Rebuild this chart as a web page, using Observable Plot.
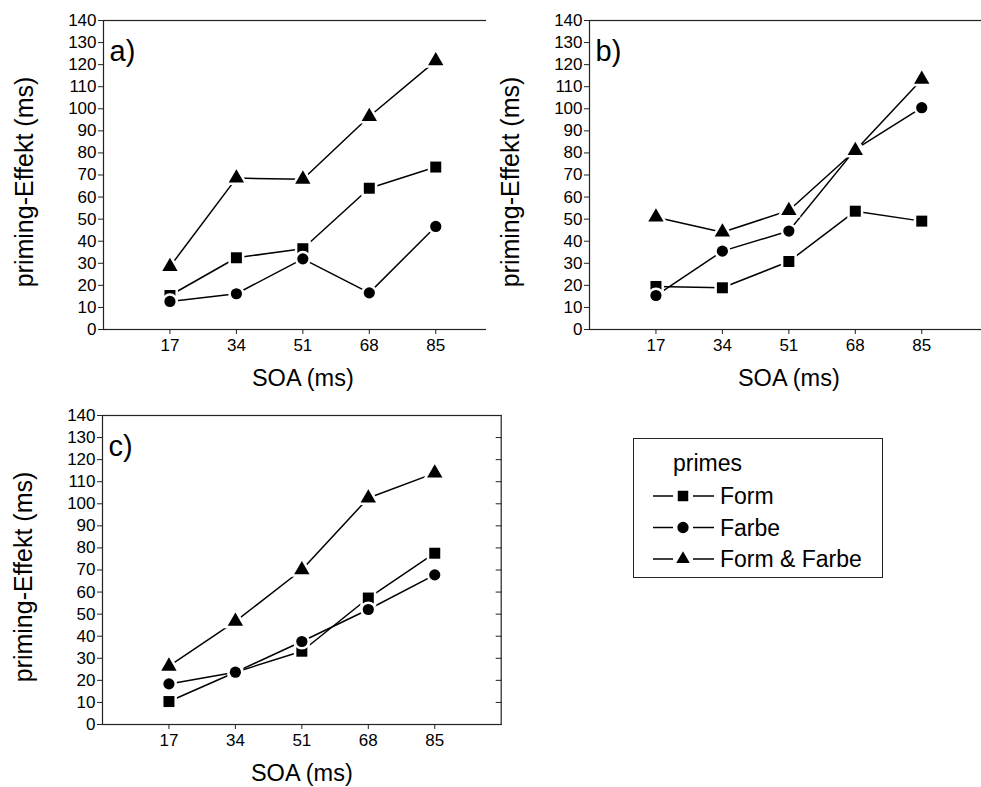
<!DOCTYPE html>
<html>
<head>
<meta charset="utf-8">
<script src="https://cdn.jsdelivr.net/npm/d3@7"></script>
<script src="https://cdn.jsdelivr.net/npm/@observablehq/plot@0.6"></script>
<style>
  html, body { margin: 0; padding: 0; background: #fff; overflow: hidden; }
  body { width: 981px; height: 787px; position: relative; font-family: "Liberation Sans", Arial, sans-serif; }
  .panel { position: absolute; width: 520px; height: 400px; }
  .panel svg { max-width: none !important; }
  #legend { position: absolute; left: 633px; top: 438px; width: 248px; height: 138px; border: 1px solid #222; box-sizing: content-box; }
</style>
</head>
<body>
<div id="pa" class="panel" style="left:0px;top:0px"></div>
<div id="pb" class="panel" style="left:486px;top:0px"></div>
<div id="pc" class="panel" style="left:-1px;top:395px"></div>
<div id="legend"></div>
<script>
// ---- data ----
const soa = [17, 34, 51, 68, 85];
const series = ["Form", "Farbe", "Form & Farbe"];
const symbols = ["square", "circle", "triangle"];
const yTicks = [0, 10, 20, 30, 40, 50, 60, 70, 80, 90, 100, 110, 120, 130, 140];

const aForm  = [15.4, 32.5, 36.6, 64.0, 73.6];
const aFarbe = [12.7, 16.2, 32.0, 16.6, 46.7];
const aBoth  = [28.5, 68.6, 68.1, 96.5, 121.7];

const bForm  = [19.5, 18.9, 30.8, 53.6, 49.1];
const bFarbe = [15.4, 35.5, 44.6, 81.6, 100.5];
const bBoth  = [50.9, 44.1, 53.9, 81.1, 113.3];

const cForm  = [10.4, 23.7, 33.2, 57.3, 77.6];
const cFarbe = [18.4, 23.7, 37.6, 52.1, 67.8];
const cBoth  = [26.4, 46.7, 70.1, 102.6, 113.9];

const panelLabels = ["a)", "b)", "c)"];
const xTitle = "SOA (ms)";
const yTitle = "priming-Effekt (ms)";
const legendTitle = "primes";

const font = "'Liberation Sans', Arial, sans-serif";
const symbolR = {square: 6.2, circle: 5.6, triangle: 5.7};

function rowsOf(arrs) {
  const rows = [];
  arrs.forEach((vals, si) => {
    vals.forEach((v, i) => rows.push({s: series[si], sym: symbols[si], x: soa[i], y: v}));
  });
  return rows;
}

function panel(arrs, label) {
  const rows = rowsOf(arrs);
  const marks = [
    Plot.frame({stroke: "#222", strokeWidth: 1.2}),
    Plot.axisY({ticks: yTicks, tickSize: 5, tickPadding: 2, fontSize: 17, label: null, stroke: "#222"}),
    Plot.axisY({anchor: "right", ticks: yTicks, tickSize: 6, dx: -6, tickFormat: () => "", label: null, stroke: "#222"}),
    Plot.axisX({ticks: soa, tickSize: 5, tickPadding: 4, fontSize: 17, label: null, stroke: "#222"}),
    Plot.line(rows, {x: "x", y: "y", z: "s", stroke: "black", strokeWidth: 1.5})
  ];
  symbols.forEach((sym) => {
    marks.push(Plot.dot(rows.filter(d => d.sym === sym), {
      x: "x", y: "y", symbol: sym, r: symbolR[sym], fill: "black",
      stroke: "white", strokeWidth: 5, paintOrder: "stroke"
    }));
  });
  marks.push(
    Plot.text([label], {frameAnchor: "top-left", dx: 6, dy: 31, textAnchor: "start", lineAnchor: "middle", fontSize: 29, fill: "black"}),
    Plot.text([xTitle], {frameAnchor: "bottom", dy: 49, textAnchor: "middle", lineAnchor: "middle", fontSize: 23.5, fill: "black"}),
    Plot.text([yTitle], {frameAnchor: "left", rotate: -90, dx: -79, dy: 7, textAnchor: "middle", lineAnchor: "middle", fontSize: 25, fill: "black"})
  );
  return Plot.plot({
    width: 520, height: 400,
    marginLeft: 103, marginRight: 18.3, marginTop: 20, marginBottom: 71,
    style: {fontFamily: font, color: "black", background: "white", overflow: "visible", maxWidth: "none"},
    x: {domain: [0, 102]},
    y: {domain: [0, 140]},
    marks
  });
}

document.getElementById("pa").appendChild(panel([aForm, aFarbe, aBoth], panelLabels[0]));
document.getElementById("pb").appendChild(panel([bForm, bFarbe, bBoth], panelLabels[1]));
document.getElementById("pc").appendChild(panel([cForm, cFarbe, cBoth], panelLabels[2]));

// ---- legend ----
const lg = d3.select("#legend").append("svg").attr("width", 248).attr("height", 138)
  .style("font-family", font).style("overflow", "visible");
lg.append("text").attr("x", 39).attr("y", 32).attr("font-size", 23).text(legendTitle);
series.forEach((s, i) => {
  const cy = 57 + i * 31.5;
  const g = lg.append("g").attr("transform", `translate(0,${cy})`);
  g.append("line").attr("x1", 19).attr("x2", 39).attr("y1", 0).attr("y2", 0).attr("stroke", "black").attr("stroke-width", 1.5);
  g.append("line").attr("x1", 59).attr("x2", 80).attr("y1", 0).attr("y2", 0).attr("stroke", "black").attr("stroke-width", 1.5);
  const sym = {square: d3.symbolSquare, circle: d3.symbolCircle, triangle: d3.symbolTriangle}[symbols[i]];
  const sz = {square: 110, circle: 100, triangle: 80}[symbols[i]];
  g.append("path").attr("transform", "translate(49,0)").attr("d", d3.symbol(sym, sz)()).attr("fill", "black");
  g.append("text").attr("x", 86).attr("y", 0).attr("dy", "0.35em").attr("font-size", 23).text(s);
});
</script>
</body>
</html>
